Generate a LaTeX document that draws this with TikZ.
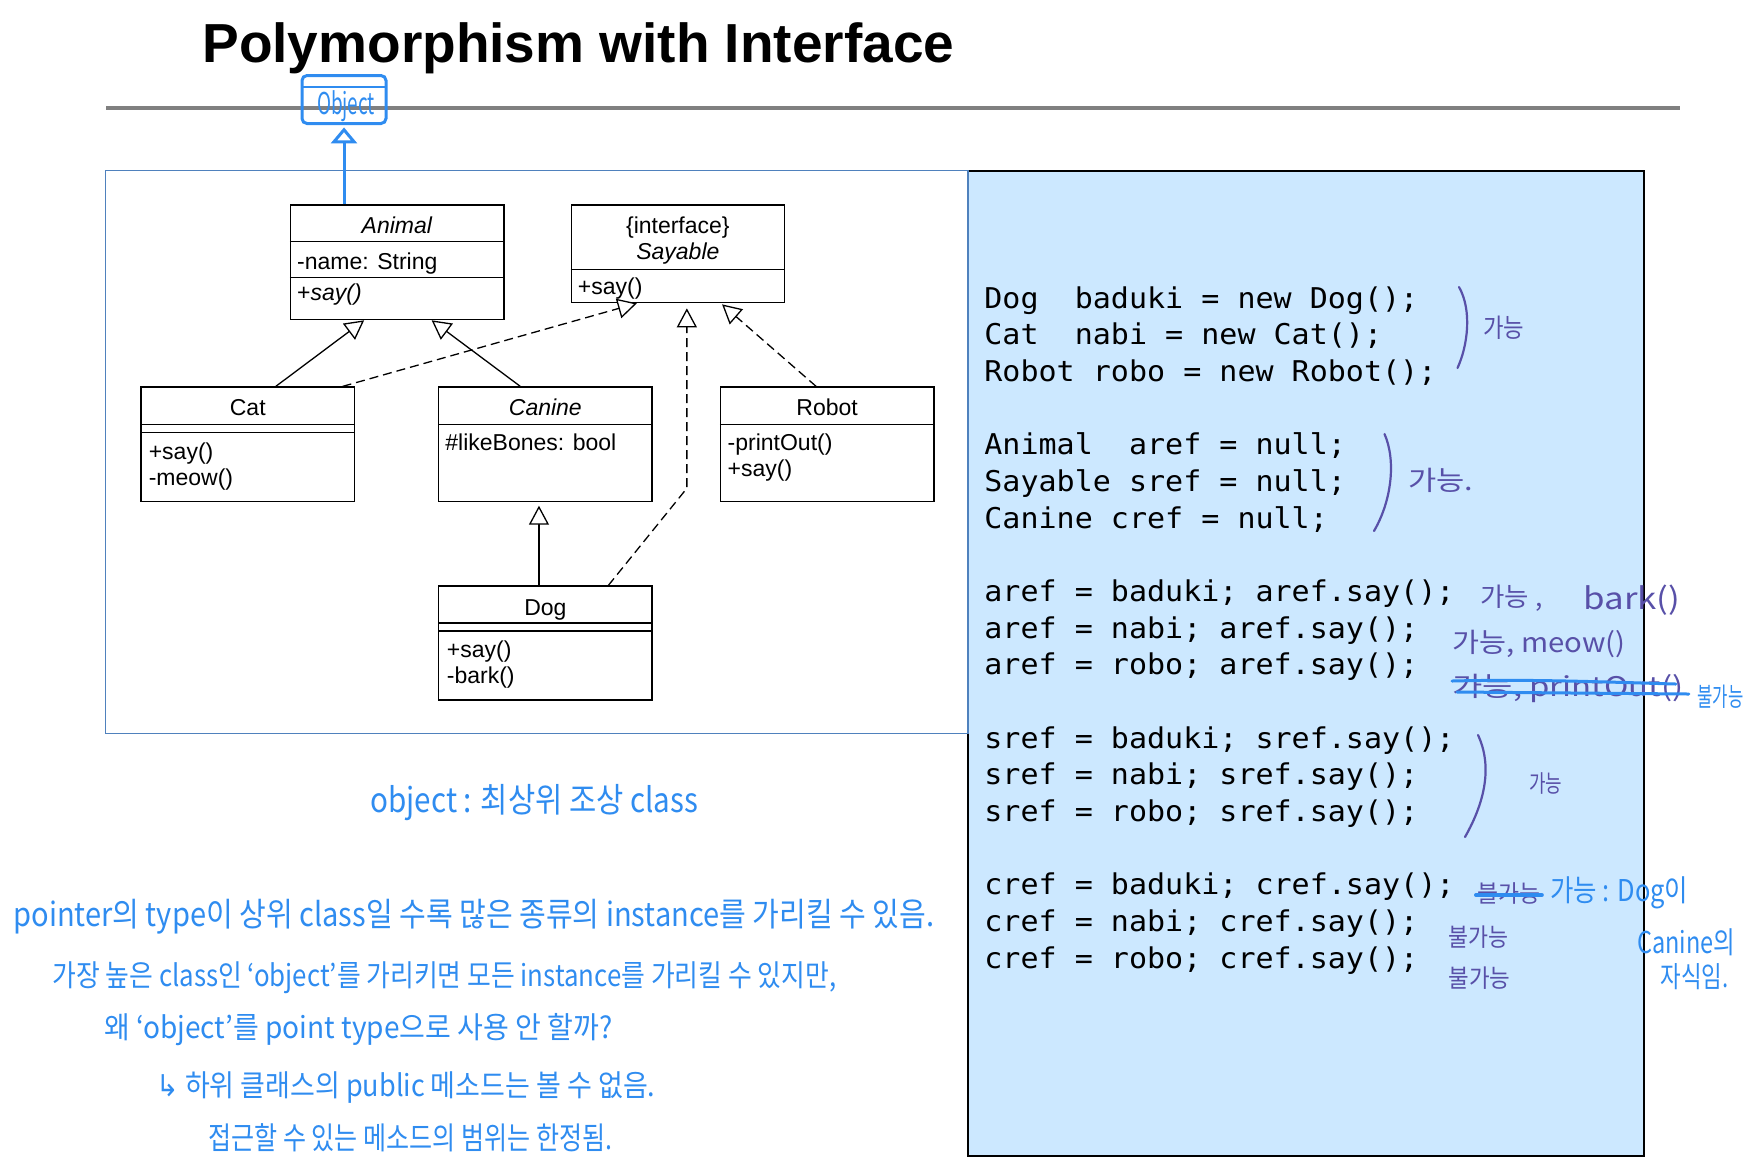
\documentclass[tikz,border=0pt]{standalone}
\usepackage{fontspec}
\usepackage{graphicx}
\usetikzlibrary{arrows.meta,calc}
\setmainfont{Liberation Sans}
\newfontfamily\uifont{Liberation Sans}
\newfontfamily\codefont[FakeStretch=1.05]{DejaVu Sans Mono}
\newfontfamily\hand{Noto Sans CJK KR}
\newfontfamily\symfont{DejaVu Sans}
\definecolor{hblue}{RGB}{47,140,240}
\definecolor{hpurple}{RGB}{88,80,168}
\definecolor{frameblue}{RGB}{79,129,189}
\definecolor{codebg}{RGB}{204,232,255}
\definecolor{rulegray}{RGB}{128,128,128}
% squeeze a handwritten note to a given width (in px units), keeping its height
\newcommand{\hw}[2]{\resizebox{\dimexpr #1pt/2\relax}{\height}{#2}}
\begin{document}
\begin{tikzpicture}[x=0.5pt,y=-0.5pt,
  cls/.style={draw, line width=0.65pt, anchor=north west, minimum width=106.7pt, inner sep=0pt, fill=white},
  umltxt/.style={font=\uifont\fontsize{11.5}{13}\selectfont, inner sep=0pt, anchor=base west},
  umlname/.style={umltxt, anchor=base},
  gen/.style={line width=0.65pt, -{Triangle[width=10pt,length=9.5pt,fill=white]}},
  real/.style={gen, dash pattern=on 4.5pt off 2.5pt},
  code/.style={font=\codefont\fontsize{14.3}{17}\selectfont, inner sep=0pt, anchor=base west},
  hnote/.style={inner sep=0pt, anchor=west},
  bracket/.style={hpurple, line width=1.1pt, line cap=round}
]
\useasboundingbox (0,0) rectangle (1761,1175);

% title and rule
\node[anchor=base west, inner sep=0pt, font=\uifont\bfseries\fontsize{27.5}{30}\selectfont] (title) at (202,62) {Polymorphism with Interface};
\draw[rulegray, line width=1.6pt] (106,108) -- (1680,108);

% code panel and diagram panel
\draw[fill=codebg, line width=1pt] (968,171) rectangle (1643.5,1155.5);
\draw[frameblue, line width=0.7pt] (105.6,170.5) rectangle (968,733.5);

% class boxes
\node[cls, minimum height=57.3pt] (animal) at (289.8,204.4) {};
\node[cls, minimum height=48.8pt] (sayable) at (570.5,204.4) {};
\node[cls, minimum height=57.3pt] (cat) at (140.4,386.4) {};
\node[cls, minimum height=57.3pt] (canine) at (438,386.4) {};
\node[cls, minimum height=57.3pt] (robot) at (719.8,386.4) {};
\node[cls, minimum height=57pt] (dog) at (438,585.4) {};

% compartment separators
\foreach \c/\d in {animal/37.4, animal/73.1, sayable/65.1, cat/38, cat/46.2, canine/38, robot/38, dog/37.6, dog/45.6}
  \draw[line width=0.65pt] ($(\c.north west)+(0,\d)$) -- ($(\c.north east)+(0,\d)$);

% class texts
\node[umlname] (animal-n) at ($(animal.north)+(0,29.2)$) {\textit{Animal}};
\node[umltxt] (animal-a) at ($(animal.north west)+(7,64.6)$) {-name: String};
\node[umltxt] (animal-m) at ($(animal.north west)+(7,96.3)$) {+\textit{say()}};
\node[umlname] (sayable-s) at ($(sayable.north)+(0,29.1)$) {\{interface\}};
\node[umlname] (sayable-n) at ($(sayable.north)+(0,55.1)$) {\textit{Sayable}};
\node[umltxt] (sayable-m) at ($(sayable.north west)+(7,89.6)$) {+say()};
\node[umlname] (cat-n) at ($(cat.north)+(0,29.2)$) {Cat};
\node[umltxt] (cat-m1) at ($(cat.north west)+(8,72.6)$) {+say()};
\node[umltxt] (cat-m2) at ($(cat.north west)+(8,98.6)$) {-meow()};
\node[umlname] (canine-n) at ($(canine.north)+(0,29.2)$) {\textit{Canine}};
\node[umltxt] (canine-a) at ($(canine.north west)+(7,63.9)$) {\#likeBones: bool};
\node[umlname] (robot-n) at ($(robot.north)+(0,29.2)$) {Robot};
\node[umltxt] (robot-m1) at ($(robot.north west)+(7.5,63.9)$) {-printOut()};
\node[umltxt] (robot-m2) at ($(robot.north west)+(7.5,89.9)$) {+say()};
\node[umlname] (dog-n) at ($(dog.north)+(0,29.6)$) {Dog};
\node[umltxt] (dog-m1) at ($(dog.north west)+(8.5,72.2)$) {+say()};
\node[umltxt] (dog-m2) at ($(dog.north west)+(8.5,98.2)$) {-bark()};

% generalisation and realisation
\draw[gen] ($(cat.north)+(28,0)$) -- ($(animal.south)+(-33,0)$);
\draw[gen] ($(canine.north)+(-25,0)$) -- ($(animal.south)+(34.5,0)$);
\draw[gen, shorten >=1.7pt] ($(dog.north)+(-6.4,0)$) -- ($(canine.south)+(-6.4,0)$);
\draw[real] ($(cat.north east)+(-12.5,0)$) -- ($(sayable.south)+(-41,0)$);
\draw[real, shorten >=2.5pt] ($(dog.north)+(63,0)$) -- ($(sayable.south)+(9,185)$) -- ($(sayable.south)+(9,0)$);
\draw[real, shorten >=0.8pt] ($(robot.north)+(-11,0)$) -- ($(sayable.south)+(43,0)$);

% hand-drawn Object class above Animal
\node[draw=hblue, line width=1.5pt, rounded corners=2.5pt, minimum width=42pt, minimum height=24pt, inner sep=0pt] (obj) at (344,99.5) {};
\draw[hblue, line width=1.3pt] ($(obj.north west)+(2,13)$) -- ($(obj.north east)+(-2,13)$);
\node[hnote, anchor=center, text=hblue, font=\hand\fontsize{15}{17}\selectfont] (objlbl) at (346,106) {\hw{58}{Object}};
\draw[hblue, line width=1.5pt, -{Triangle[width=13pt,length=8pt,fill=white]}, shorten >=1.2pt] (animal.north -| obj.south) -- (obj.south);

% code listing
\foreach \k/\t in {0/{Dog~~baduki = new Dog();}, 1/{Cat~~nabi = new Cat();}, 2/{Robot robo = new Robot();},
  4/{Animal~~aref = null;}, 5/{Sayable sref = null;}, 6/{Canine cref = null;},
  8/{aref = baduki; aref.say();}, 9/{aref = nabi; aref.say();}, 10/{aref = robo; aref.say();},
  12/{sref = baduki; sref.say();}, 13/{sref = nabi; sref.say();}, 14/{sref = robo; sref.say();},
  16/{cref = baduki; cref.say();}, 17/{cref = nabi; cref.say();}, 18/{cref = robo; cref.say();}}
  \node[code] (code\k) at (984,{308.3+36.65*\k}) {\t};

% purple pen notes
\draw[bracket] (1459,287) .. controls (1472,310) and (1468,345) .. (1457.5,368);
\draw[bracket] (1384.5,434) .. controls (1396,460) and (1392,500) .. (1374,531);
\draw[bracket] (1478,735) .. controls (1492,765) and (1486,800) .. (1465,837);
\node[hnote, text=hpurple, font=\hand\fontsize{13}{15}\selectfont] (p1) at (1483,328) {\hw{41}{가능}};
\node[hnote, text=hpurple, font=\hand\fontsize{13.5}{15}\selectfont] (p2) at (1408,480) {\hw{65}{가능.}};
\node[hnote, text=hpurple, font=\hand\fontsize{13}{15}\selectfont] (p3) at (1480,598) {\hw{62}{가능 ,}};
\node[hnote, text=hpurple, font=\hand\fontsize{15}{17}\selectfont] (p4) at (1583,600) {\hw{97}{bark()}};
\node[hnote, text=hpurple, font=\hand\fontsize{13.5}{15}\selectfont] (p5) at (1452,644) {\hw{173}{가능, meow()}};
\node[hnote, text=hpurple, font=\hand\fontsize{13.5}{15}\selectfont] (p6) at (1452,688) {\hw{231}{가능, printOut()}};
\node[hnote, text=hpurple, font=\hand\fontsize{12}{14}\selectfont] (p7) at (1529,783) {\hw{33}{가능}};
\node[hnote, text=hpurple, font=\hand\fontsize{12}{14}\selectfont] (p8) at (1477,893) {\hw{63}{불가능}};
\node[hnote, text=hpurple, font=\hand\fontsize{12.5}{14}\selectfont] (p9) at (1448,937) {\hw{60}{불가능}};
\node[hnote, text=hpurple, font=\hand\fontsize{12.5}{14}\selectfont] (p10) at (1448,978) {\hw{62}{불가능}};

% blue pen corrections
\draw[hblue, line width=1.5pt, line cap=round] ($(p6.west)+(0,-7)$) .. controls ($(p6.west)+(80,-9)$) and ($(p6.east)+(-80,-6)$) .. ($(p6.east)+(-8,-4)$);
\draw[hblue, line width=1.5pt, line cap=round] ($(p6.west)+(5,4)$) -- ($(p6.east)+(5,6)$);
\draw[hblue, line width=2pt, line cap=round] ($(p8.west)+(-1,2)$) -- ($(p8.east)+(1,2)$);
\node[hnote, text=hblue, font=\hand\fontsize{13}{15}\selectfont] (b1) at (1697,697) {\hw{46}{불가능}};
\node[hnote, text=hblue, font=\hand\fontsize{15}{17}\selectfont] (b2) at (1550,893) {\hw{138}{가능 : Dog이}};
\node[hnote, text=hblue, font=\hand\fontsize{15}{17}\selectfont] (b3) at (1637,942) {\hw{98}{Canine의}};
\node[hnote, text=hblue, font=\hand\fontsize{14.5}{16}\selectfont] (b4) at (1660,977) {\hw{68}{자식임.}};

% notes below the diagram
\node[hnote, text=hblue, font=\hand\fontsize{17}{20}\selectfont] (n1) at (370,803) {\hw{328}{object : 최상위 조상 class}};
\node[hnote, text=hblue, font=\hand\fontsize{16.5}{19}\selectfont] (n2) at (13,917) {\hw{921}{pointer의 type이 상위 class일 수록 많은 종류의 instance를 가리킬 수 있음.}};
\node[hnote, text=hblue, font=\hand\fontsize{15}{18}\selectfont] (n3) at (52,978) {\hw{784}{가장 높은 class인 ‘object’를 가리키면 모든 instance를 가리킬 수 있지만,}};
\node[hnote, text=hblue, font=\hand\fontsize{15}{18}\selectfont] (n4) at (104,1030) {\hw{508}{왜 ‘object’를 point type으로 사용 안 할까?}};
\node[hnote, text=hblue, font=\hand\fontsize{15}{18}\selectfont] (n5) at (156,1088) {\hw{499}{{\symfont ↳} 하위 클래스의 public 메소드는 볼 수 없음.}};
\node[hnote, text=hblue, font=\hand\fontsize{15.5}{18}\selectfont] (n6) at (208,1138) {\hw{404}{접근할 수 있는 메소드의 범위는 한정됨.}};
\end{tikzpicture}
\end{document}
